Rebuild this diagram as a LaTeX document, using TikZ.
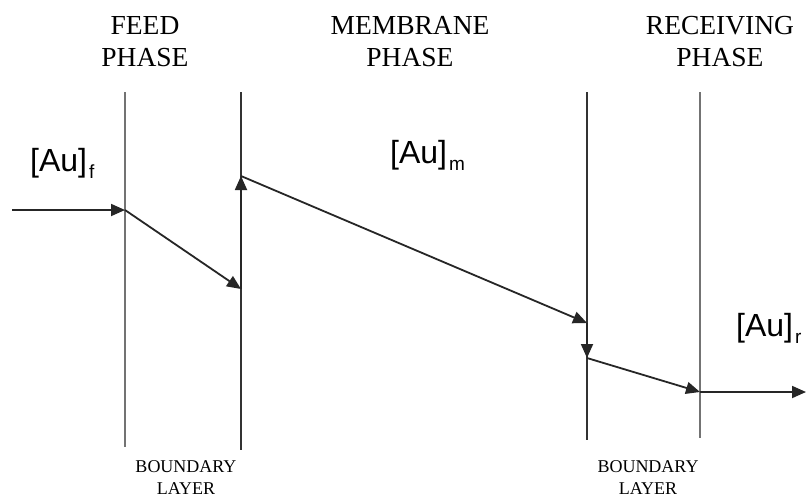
\documentclass[tikz,border=0pt]{standalone}
\usepackage{fontspec}
\setmainfont{Liberation Serif}
\newfontfamily\arialf{Liberation Sans}
\usetikzlibrary{arrows.meta}
\tikzset{
  flow/.style={line width=1.8pt,draw=black!85,-{Triangle[length=14pt,width=12pt]}},
  darkwall/.style={line width=1.9pt,draw=black!80},
  greywall/.style={line width=1.1pt,draw=black!55},
  head/.style={font=\fontsize{27.5}{32}\selectfont,align=center,inner sep=0pt},
  blayer/.style={font=\fontsize{18}{22}\selectfont,align=center,inner sep=0pt},
  conc/.style={font=\arialf\fontsize{32}{36}\selectfont,inner sep=0pt,anchor=base west},
}
\newcommand{\csub}[1]{\kern2pt\raisebox{-0.45ex}{\fontsize{19}{19}\selectfont #1}}
\begin{document}
\begin{tikzpicture}[x=1pt,y=-1pt]
\useasboundingbox[fill=white] (0,0) rectangle (810,501);
% walls
\draw[greywall] (125,92) -- (125,447);
\draw[darkwall] (241,92) -- (241,450);
\draw[darkwall] (587,92) -- (587,440);
\draw[greywall] (700,92) -- (700,438);
% points
\coordinate (in) at (12,210);
\coordinate (f1) at (125,210);
\coordinate (f2) at (241,289);
\coordinate (m1) at (241,176);
\coordinate (m2) at (587,323);
\coordinate (r1) at (587,358);
\coordinate (r2) at (700,392);
\coordinate (out) at (806,392);
\draw[flow] (in) -- (f1);
\draw[flow] (f1) -- (f2);
\draw[flow] (f2) -- (m1);
\draw[flow] (m1) -- (m2);
\draw[flow] (m2) -- (r1);
\draw[flow] (r1) -- (r2);
\draw[flow] (r2) -- (out);
% headings
\node[head] (hf) at (145,42) {FEED\\PHASE};
\node[head] (hm) at (410,42) {MEMBRANE\\PHASE};
\node[head] (hr) at (720,42) {RECEIVING\\PHASE};
% boundary layers
\node[blayer] (b1) at (186,478) {BOUNDARY\\LAYER};
\node[blayer] (b2) at (648,478) {BOUNDARY\\LAYER};
% concentrations
\node[conc] (cf) at (30,171) {[Au]\csub{f}};
\node[conc] (cm) at (390,163) {[Au]\csub{m}};
\node[conc] (cr) at (736,336) {[Au]\csub{r}};
\end{tikzpicture}
\end{document}
